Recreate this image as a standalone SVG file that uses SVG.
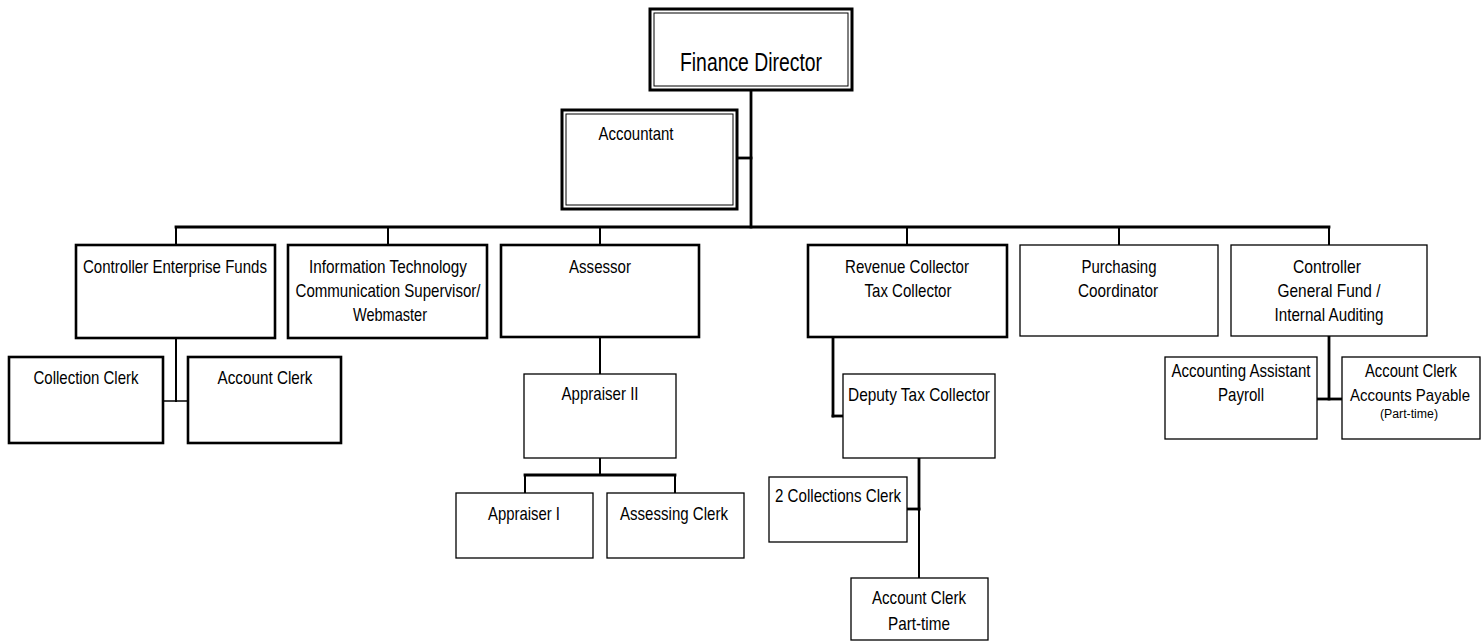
<svg xmlns="http://www.w3.org/2000/svg" width="1482" height="643" viewBox="0 0 1482 643">
<style>
  .bx{fill:#fff;stroke:#000}
  .thick{stroke-width:2.6}
  .thin{stroke-width:1.3}
  .in{fill:none;stroke:#000;stroke-width:1}
  text{font-family:"Liberation Sans",Arial,sans-serif;font-size:19px;fill:#000;text-anchor:middle}
  .c{fill:none;stroke:#000;stroke-linecap:square}
  .w3{stroke-width:2.8}
  .w2{stroke-width:2}
  .w1{stroke-width:1.5}
</style>
<rect width="1482" height="643" fill="#fff"/>
<g id="connectors">
  <line class="c w3" x1="751" y1="90" x2="751" y2="227"/>
  <line class="c w3" x1="737" y1="158" x2="751" y2="158"/>
  <line class="c w3" x1="176" y1="227" x2="1329" y2="227"/>
  <line class="c w2" x1="176" y1="227" x2="176" y2="245"/>
  <line class="c w2" x1="388" y1="227" x2="388" y2="245"/>
  <line class="c w2" x1="600" y1="227" x2="600" y2="245"/>
  <line class="c w2" x1="907" y1="227" x2="907" y2="245"/>
  <line class="c w2" x1="1119" y1="227" x2="1119" y2="245"/>
  <line class="c w2" x1="1329" y1="227" x2="1329" y2="245"/>
  <line class="c w2" x1="176" y1="338" x2="176" y2="401"/>
  <line class="c w1" x1="163" y1="401" x2="188" y2="401"/>
  <line class="c w2" x1="600" y1="337" x2="600" y2="374"/>
  <line class="c w2" x1="600" y1="458" x2="600" y2="475"/>
  <line class="c w3" x1="525" y1="475" x2="675" y2="475"/>
  <line class="c w2" x1="525" y1="475" x2="525" y2="493"/>
  <line class="c w2" x1="675" y1="475" x2="675" y2="493"/>
  <line class="c w3" x1="833" y1="337" x2="833" y2="416"/>
  <line class="c w3" x1="833" y1="416" x2="843" y2="416"/>
  <line class="c w3" x1="919" y1="458" x2="919" y2="509"/>
  <line class="c w3" x1="907" y1="509" x2="919" y2="509"/>
  <line class="c w2" x1="919" y1="509" x2="919" y2="578"/>
  <line class="c w3" x1="1329" y1="336" x2="1329" y2="399"/>
  <line class="c w3" x1="1317" y1="399" x2="1342" y2="399"/>
</g>
<g id="finance-director">
  <rect class="bx" x="650" y="9" width="202" height="81" stroke-width="3"/>
  <rect class="in" x="654" y="13" width="194" height="73"/>
  <text x="751" y="71" style="font-size:25px" textLength="142" lengthAdjust="spacingAndGlyphs">Finance Director</text>
</g>
<g id="accountant">
  <rect class="bx" x="562" y="110" width="175" height="99" stroke-width="3"/>
  <rect class="in" x="566" y="114" width="167" height="91"/>
  <text x="636" y="140" textLength="75" lengthAdjust="spacingAndGlyphs">Accountant</text>
</g>
<g id="controller-enterprise-funds">
  <rect class="bx thick" x="76" y="245" width="199" height="93"/>
  <text x="175" y="273" textLength="184" lengthAdjust="spacingAndGlyphs">Controller Enterprise Funds</text>
</g>
<g id="it-supervisor">
  <rect class="bx thick" x="288" y="245" width="199" height="93"/>
  <text x="388" y="273" textLength="158" lengthAdjust="spacingAndGlyphs">Information Technology</text>
  <text x="388" y="297" textLength="185" lengthAdjust="spacingAndGlyphs">Communication Supervisor/</text>
  <text x="390" y="321" textLength="74" lengthAdjust="spacingAndGlyphs">Webmaster</text>
</g>
<g id="assessor">
  <rect class="bx thick" x="501" y="245" width="198" height="92"/>
  <text x="600" y="273" textLength="62" lengthAdjust="spacingAndGlyphs">Assessor</text>
</g>
<g id="revenue-collector">
  <rect class="bx thick" x="808" y="245" width="199" height="92"/>
  <text x="907" y="273" textLength="124" lengthAdjust="spacingAndGlyphs">Revenue Collector</text>
  <text x="908" y="297" textLength="87" lengthAdjust="spacingAndGlyphs">Tax Collector</text>
</g>
<g id="purchasing-coordinator">
  <rect class="bx thin" x="1020" y="245" width="198" height="91"/>
  <text x="1119" y="273" textLength="75" lengthAdjust="spacingAndGlyphs">Purchasing</text>
  <text x="1118" y="297" textLength="80" lengthAdjust="spacingAndGlyphs">Coordinator</text>
</g>
<g id="controller-general-fund">
  <rect class="bx thin" x="1231" y="245" width="196" height="91"/>
  <text x="1327" y="273" textLength="68" lengthAdjust="spacingAndGlyphs">Controller</text>
  <text x="1329" y="297" textLength="103" lengthAdjust="spacingAndGlyphs">General Fund /</text>
  <text x="1329" y="321" textLength="109" lengthAdjust="spacingAndGlyphs">Internal Auditing</text>
</g>
<g id="collection-clerk">
  <rect class="bx thick" x="9" y="357" width="154" height="86"/>
  <text x="86" y="384" textLength="105" lengthAdjust="spacingAndGlyphs">Collection Clerk</text>
</g>
<g id="account-clerk-ef">
  <rect class="bx thick" x="188" y="357" width="153" height="86"/>
  <text x="265" y="384" textLength="95" lengthAdjust="spacingAndGlyphs">Account Clerk</text>
</g>
<g id="appraiser-ii">
  <rect class="bx thin" x="524" y="374" width="152" height="84"/>
  <text x="600" y="400" textLength="77" lengthAdjust="spacingAndGlyphs">Appraiser II</text>
</g>
<g id="appraiser-i">
  <rect class="bx thin" x="456" y="493" width="137" height="65"/>
  <text x="524" y="520" textLength="72" lengthAdjust="spacingAndGlyphs">Appraiser I</text>
</g>
<g id="assessing-clerk">
  <rect class="bx thin" x="607" y="493" width="137" height="65"/>
  <text x="674" y="520" textLength="108" lengthAdjust="spacingAndGlyphs">Assessing Clerk</text>
</g>
<g id="deputy-tax-collector">
  <rect class="bx thin" x="843" y="374" width="152" height="84"/>
  <text x="919" y="401" textLength="142" lengthAdjust="spacingAndGlyphs">Deputy Tax Collector</text>
</g>
<g id="collections-clerk">
  <rect class="bx thin" x="769" y="477" width="138" height="65"/>
  <text x="838" y="502" textLength="126" lengthAdjust="spacingAndGlyphs">2 Collections Clerk</text>
</g>
<g id="account-clerk-pt">
  <rect class="bx thin" x="851" y="578" width="137" height="62"/>
  <text x="919" y="604" textLength="94" lengthAdjust="spacingAndGlyphs">Account Clerk</text>
  <text x="919" y="630" textLength="62" lengthAdjust="spacingAndGlyphs">Part-time</text>
</g>
<g id="accounting-assistant">
  <rect class="bx thin" x="1165" y="357" width="152" height="82"/>
  <text x="1241" y="377" textLength="139" lengthAdjust="spacingAndGlyphs">Accounting Assistant</text>
  <text x="1241" y="401" textLength="46" lengthAdjust="spacingAndGlyphs">Payroll</text>
</g>
<g id="account-clerk-ap">
  <rect class="bx thin" x="1342" y="357" width="138" height="82"/>
  <text x="1411" y="377" textLength="92" lengthAdjust="spacingAndGlyphs">Account Clerk</text>
  <text x="1410" y="401" style="font-size:17px" textLength="120" lengthAdjust="spacingAndGlyphs">Accounts Payable</text>
  <text x="1409" y="418" style="font-size:12px" textLength="58" lengthAdjust="spacingAndGlyphs">(Part-time)</text>
</g>
</svg>
